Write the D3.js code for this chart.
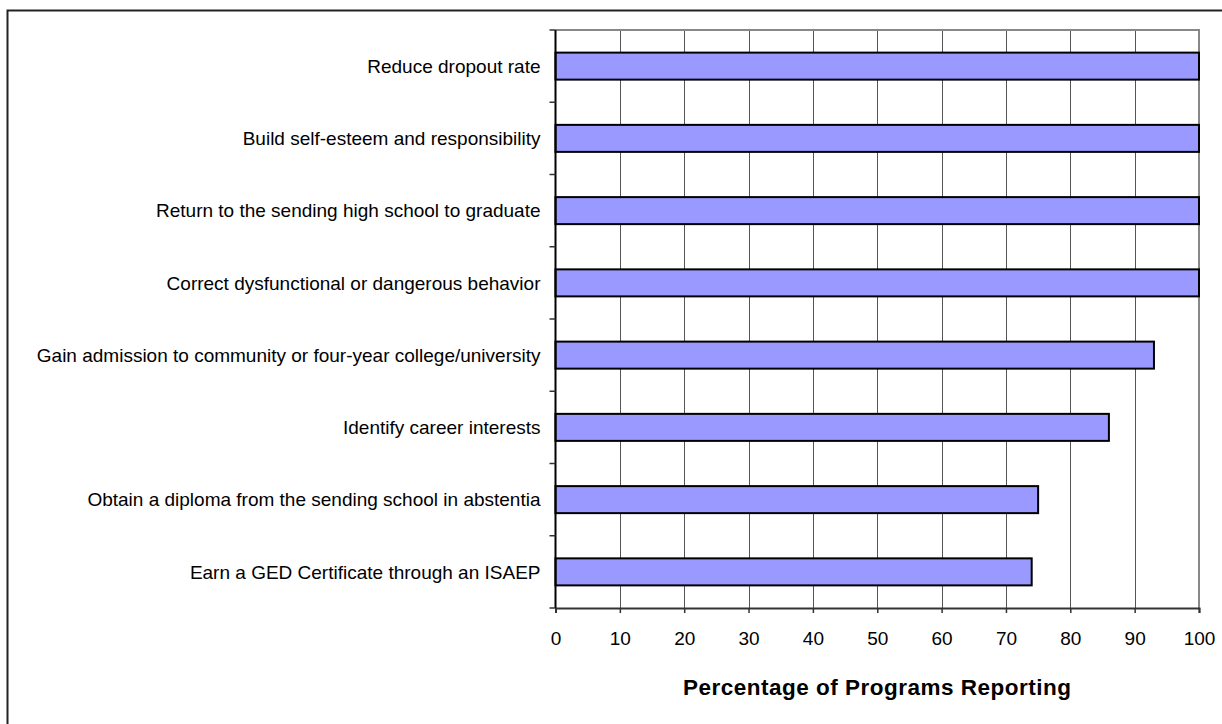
<!DOCTYPE html>
<html>
<head>
<meta charset="utf-8">
<script src="https://cdn.jsdelivr.net/npm/d3@7"></script>
<style>
  html, body { margin: 0; padding: 0; background: #fff; }
  svg { display: block; }
  text { font-family: "Liberation Sans", Arial, sans-serif; fill: #000; }
</style>
</head>
<body>
<svg id="chart" width="1222" height="724"></svg>
<script>
// Goals reported by programs (top to bottom)
const categories = [
  "Reduce dropout rate",
  "Build self-esteem and responsibility",
  "Return to the sending high school to graduate",
  "Correct dysfunctional or dangerous behavior",
  "Gain admission to community or four-year college/university",
  "Identify career interests",
  "Obtain a diploma from the sending school in abstentia",
  "Earn a GED Certificate through an ISAEP"
];
const percentages = [100, 100, 100, 100, 93, 86, 75, 74];
const xTicks = [0, 10, 20, 30, 40, 50, 60, 70, 80, 90, 100];
const xTitle = "Percentage of Programs Reporting";

const svg = d3.select("#chart");

// outer frame
svg.append("rect")
  .attr("x", 7.5).attr("y", 10.5)
  .attr("width", 1400).attr("height", 900)
  .attr("fill", "none").attr("stroke", "#222").attr("stroke-width", 2);

const plot = { left: 555.5, right: 1199, top: 30, bottom: 608 };

const x = d3.scaleLinear().domain([0, 100]).range([plot.left, plot.right]);
const y = d3.scaleBand().domain(categories).range([plot.top, plot.bottom]).paddingInner(0.626).paddingOuter(0.313);
const yBand = d3.scaleBand().domain(categories).range([plot.top, plot.bottom]);

// vertical gridlines
svg.append("g")
  .selectAll("line")
  .data(xTicks.filter(t => t > 0 && t < 100))
  .join("line")
  .attr("x1", d => Math.round(x(d)) + 0.5).attr("x2", d => Math.round(x(d)) + 0.5)
  .attr("y1", plot.top).attr("y2", plot.bottom)
  .attr("stroke", "#555").attr("stroke-width", 1);

// plot area top and right border
svg.append("path")
  .attr("d", `M${plot.left},${plot.top}H${plot.right}V${plot.bottom}`)
  .attr("fill", "none").attr("stroke", "#888").attr("stroke-width", 2);

// bars
svg.append("g")
  .selectAll("rect")
  .data(categories)
  .join("rect")
  .attr("x", x(0))
  .attr("y", d => y(d))
  .attr("width", (d, i) => x(percentages[i]) - x(0))
  .attr("height", y.bandwidth())
  .attr("fill", "#9999FF")
  .attr("stroke", "#000").attr("stroke-width", 2);

// x axis
const xAxis = d3.axisBottom(x).tickValues(xTicks).tickSize(5).tickPadding(19).tickFormat(d3.format("d"));
const gx = svg.append("g").attr("transform", `translate(0,${plot.bottom})`).call(xAxis);
gx.select(".domain").attr("stroke", "#333").attr("stroke-width", 2);
gx.selectAll(".tick line").attr("stroke", "#333").attr("stroke-width", 1.5);
gx.selectAll(".tick text")
  .style("font-family", "'Liberation Sans', Arial, sans-serif")
  .style("font-size", "19px").attr("fill", "#000");

// y axis: line with ticks at category boundaries
svg.append("line")
  .attr("x1", plot.left).attr("x2", plot.left)
  .attr("y1", plot.top).attr("y2", plot.bottom)
  .attr("stroke", "#000").attr("stroke-width", 2);
const boundaries = categories.map(c => yBand(c)).concat([plot.bottom]);
svg.append("g")
  .selectAll("line")
  .data(boundaries)
  .join("line")
  .attr("x1", plot.left - 6).attr("x2", plot.left)
  .attr("y1", d => d).attr("y2", d => d)
  .attr("stroke", "#333").attr("stroke-width", 1.5);

// category labels
svg.append("g")
  .selectAll("text")
  .data(categories)
  .join("text")
  .attr("x", plot.left - 15)
  .attr("y", d => y(d) + y.bandwidth() / 2)
  .attr("dy", "0.35em")
  .attr("text-anchor", "end")
  .style("font-size", "19px")
  .text(d => d);

// axis title
svg.append("text")
  .attr("x", (plot.left + plot.right) / 2)
  .attr("y", 695)
  .attr("text-anchor", "middle")
  .style("font-size", "22.5px")
  .style("letter-spacing", "0.5px")
  .style("font-weight", "bold")
  .text(xTitle);
</script>
</body>
</html>
